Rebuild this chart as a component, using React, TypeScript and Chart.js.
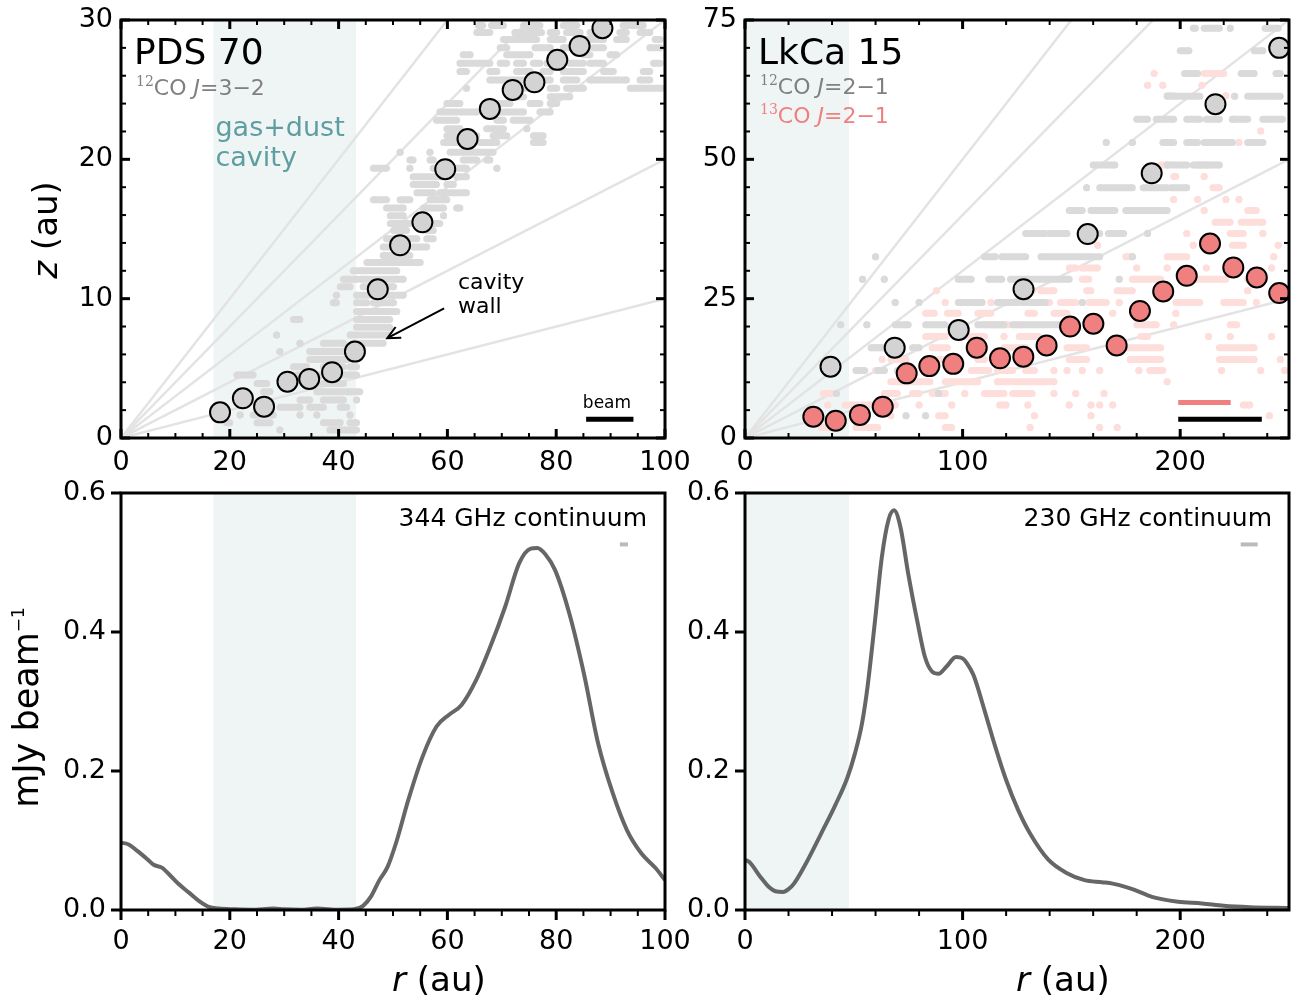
import React, { useEffect, useRef } from 'react';
import { Chart, registerables } from 'chart.js';

Chart.register(...registerables);

const FONT = '"DejaVu Sans", sans-serif';
const SERIF = '"DejaVu Serif", serif';
const GRAY_TXT = '#808080';
const CORAL = '#f08080';
const TEAL = '#5f9ea0';
const SHADE = '#eff5f5';
const LINE_GRAY = '#e3e3e3';
const DOT_GRAY = '#dadada';
const DOT_PINK = '#fddedb';

// ---------------- axes / ticks ----------------
const pdsXTicks = [0, 20, 40, 60, 80, 100];
const pdsZTicks = [0, 10, 20, 30];
const lkXTicks = [0, 100, 200];
const lkZTicks = [0, 25, 50, 75];
const fluxTicks = [0, 0.2, 0.4, 0.6];

// z/r reference lines
const zOverR = [0.1, 0.2, 0.3, 0.4, 0.5];

// gas+dust cavities (au)
const pdsCavity = [17, 43.2];
const lkCavity = [0, 47.8];

// ---------------- PDS 70 12CO emission surface ----------------
const pdsR = [18.2, 22.4, 26.3, 30.6, 34.6, 38.8, 43.0, 47.2, 51.3, 55.4, 59.6, 63.7, 67.8, 72.0, 76.0, 80.2, 84.3, 88.5];
const pdsZ = [1.84, 2.85, 2.25, 4.04, 4.24, 4.72, 6.2, 10.67, 13.83, 15.48, 19.29, 21.46, 23.62, 24.98, 25.53, 27.14, 28.14, 29.41];

// individual pixel measurements, runs of adjacent pixels: [z, r_start, r_end]
const pdsPixels: [number, number, number][] = [
  [29.6, 65.7, 66.5], [29.6, 68.1, 70.3], [29.6, 74.0, 77.0], [29.6, 81.3, 83.8], [29.6, 92.3, 96.0],
  [29.1, 65.4, 67.8], [29.1, 72.4, 74.0], [29.1, 74.6, 77.3], [29.1, 78.9, 80.1], [29.1, 81.9, 84.4], [29.1, 86.2, 87.7], [29.1, 91.7, 92.9], [29.1, 95.4, 97.2],
  [28.6, 70.3, 74.0], [28.6, 74.6, 76.4], [28.6, 78.9, 81.3], [28.6, 85.6, 88.7], [28.6, 91.1, 92.9], [28.6, 98.2, 99.1],
  [28.0, 69.7, 70.9], [28.0, 76.1, 78.9], [28.0, 81.3, 82.5], [28.0, 86.8, 88.7], [28.0, 97.2, 99.1],
  [27.5, 62.9, 64.2], [27.5, 70.9, 75.2], [27.5, 85.0, 86.2], [27.5, 89.9, 91.1],
  [26.9, 62.3, 67.8], [26.9, 69.7, 70.9], [26.9, 72.7, 74.0], [26.9, 75.8, 77.0], [26.9, 78.3, 80.1], [26.9, 82.5, 85.0], [26.9, 86.2, 88.7], [26.9, 97.9, 99.1],
  [26.3, 62.3, 63.5], [26.3, 67.8, 69.1], [26.3, 72.7, 75.2], [26.3, 77.6, 78.9], [26.3, 81.3, 85.0], [26.3, 88.7, 90.5], [26.3, 96.0, 97.2],
  [25.7, 67.8, 76.4], [25.7, 77.0, 78.9], [25.7, 81.3, 83.8], [25.7, 86.2, 92.9], [25.7, 95.4, 97.2],
  [25.1, 63.5, 63.5], [25.1, 71.5, 76.4], [25.1, 78.9, 80.1], [25.1, 81.9, 85.0], [25.1, 93.6, 99.4],
  [24.5, 71.5, 74.0], [24.5, 78.9, 82.5],
  [24.0, 59.9, 62.3], [24.0, 69.7, 71.5], [24.0, 75.2, 77.0], [24.0, 78.9, 80.1],
  [23.4, 58.6, 61.7], [23.4, 62.3, 65.4], [23.4, 69.7, 74.0], [23.4, 77.0, 78.9],
  [22.8, 58.0, 61.7], [22.8, 69.1, 70.3], [22.8, 72.1, 75.2],
  [22.2, 59.9, 62.3], [22.2, 67.2, 70.3], [22.2, 74.6, 74.6],
  [21.7, 59.9, 61.7], [21.7, 62.9, 65.4], [21.7, 68.4, 70.9], [21.7, 75.8, 77.6],
  [21.2, 59.3, 61.7], [21.2, 66.0, 69.1], [21.2, 75.8, 77.6],
  [20.5, 51.3, 51.3], [20.5, 56.8, 56.8], [20.5, 60.5, 68.4],
  [19.95, 53.1, 53.7], [19.95, 56.8, 57.4], [19.95, 62.9, 65.4], [19.95, 67.2, 67.8],
  [19.36, 46.4, 48.8], [19.36, 53.1, 53.1], [19.36, 57.4, 57.4], [19.36, 61.1, 63.5], [19.36, 69.1, 69.1],
  [18.75, 53.7, 59.3], [18.75, 61.7, 63.5],
  [18.2, 53.7, 58.0], [18.2, 59.9, 61.1],
  [17.6, 54.4, 57.4], [17.6, 58.6, 63.5],
  [17.1, 46.4, 48.8], [17.1, 51.3, 53.1], [17.1, 56.8, 59.9],
  [16.5, 48.8, 51.9], [16.5, 55.6, 59.3], [16.5, 61.7, 62.3],
  [15.95, 49.5, 51.9], [15.95, 59.3, 59.3],
  [15.4, 49.5, 53.1], [15.4, 56.8, 58.6],
  [14.9, 50.1, 52.5], [14.9, 56.2, 57.4],
  [14.3, 48.8, 50.7], [14.3, 52.5, 54.4], [14.3, 56.2, 57.4],
  [13.7, 48.2, 50.1], [13.7, 53.7, 56.2],
  [13.1, 48.2, 53.1],
  [12.6, 45.2, 55.0],
  [12.0, 42.7, 50.7],
  [11.4, 40.9, 43.3], [11.4, 44.0, 51.9],
  [10.85, 40.3, 42.1], [10.85, 44.5, 50.1],
  [10.25, 39.6, 39.6], [10.25, 43.3, 51.9],
  [9.7, 39.0, 39.6], [9.7, 43.3, 45.2], [9.7, 46.4, 50.1],
  [9.07, 43.3, 50.7],
  [8.5, 31.7, 32.9], [8.5, 43.3, 49.4],
  [7.95, 43.3, 49.4],
  [7.4, 28.6, 28.6], [7.4, 42.1, 49.4],
  [6.8, 32.9, 32.9], [6.8, 37.2, 40.9], [6.8, 42.7, 48.2],
  [6.2, 29.2, 29.2], [6.2, 34.7, 40.9],
  [5.64, 34.7, 41.5],
  [5.12, 31.7, 34.1], [5.12, 37.2, 40.9], [5.12, 42.1, 43.3],
  [4.52, 21.3, 24.3], [4.52, 32.3, 33.5], [4.52, 34.7, 43.3],
  [3.92, 25.0, 26.8], [3.92, 33.5, 36.0], [3.92, 37.2, 40.9],
  [3.32, 26.2, 27.4], [3.32, 36.0, 40.9], [3.32, 41.5, 43.9],
  [2.73, 32.9, 34.7], [2.73, 37.2, 40.9], [2.73, 43.3, 43.3],
  [2.2, 29.2, 32.9], [2.2, 34.7, 37.2], [2.2, 40.3, 41.5],
  [1.65, 21.9, 21.9], [1.65, 24.3, 28.0], [1.65, 32.9, 32.9], [1.65, 36.0, 36.0], [1.65, 42.1, 42.1],
  [1.1, 19.4, 20.0], [1.1, 25.0, 27.4], [1.1, 37.2, 40.3], [1.1, 42.1, 43.3],
  [0.57, 29.2, 29.2], [0.57, 38.4, 43.3],
];

// ---------------- LkCa 15 emission surfaces ----------------
const lk12R = [39.3, 68.8, 98.2, 128.0, 157.5, 186.9, 216.2, 245.5];
const lk12Z = [12.8, 16.2, 19.4, 26.7, 36.6, 47.5, 59.9, 70.0];
const lk13R = [31.4, 41.7, 52.8, 63.3, 74.3, 84.7, 95.7, 106.5, 117.2, 127.9, 138.6, 149.4, 160.1, 170.8, 181.5, 192.2, 203.0, 213.7, 224.4, 235.2, 245.5];
const lk13Z = [3.83, 3.11, 4.13, 5.62, 11.6, 12.9, 13.3, 16.2, 14.3, 14.6, 16.6, 20.0, 20.5, 16.6, 22.8, 26.3, 29.1, 34.9, 30.6, 28.8, 26.0];

const lk12Pixels: [number, number, number][] = [
  [73.5, 206, 207], [73.5, 211, 218], [73.5, 223, 223], [73.5, 239, 245],
  [69.5, 200, 204], [69.5, 234, 238],
  [65.4, 202, 208], [65.4, 228, 234], [65.4, 244, 246],
  [61.3, 194, 209], [61.3, 225, 225], [61.3, 231, 246],
  [57.2, 180, 185], [57.2, 189, 197], [57.2, 203, 209], [57.2, 212, 218], [57.2, 224, 231], [57.2, 238, 247],
  [53.0, 166, 166], [53.0, 178, 178], [53.0, 192, 197], [53.0, 203, 208], [53.0, 211, 224], [53.0, 231, 238],
  [49.0, 160, 170], [49.0, 194, 203], [49.0, 206, 218],
  [44.9, 157, 157], [44.9, 163, 178], [44.9, 183, 194], [44.9, 196, 203],
  [40.8, 149, 155], [40.8, 159, 170], [40.8, 175, 194],
  [36.7, 129, 138], [36.7, 140, 148], [36.7, 154, 163], [36.7, 167, 174], [36.7, 185, 185],
  [32.5, 60, 60], [32.5, 110, 115], [32.5, 118, 129], [32.5, 136, 163], [32.5, 178, 178],
  [28.5, 54, 54], [28.5, 64, 64], [28.5, 98, 104], [28.5, 112, 118], [28.5, 122, 149], [28.5, 172, 172],
  [24.3, 69, 69], [24.3, 80, 80], [24.3, 98, 109], [24.3, 116, 125], [24.3, 127, 138], [24.3, 155, 155],
  [20.3, 44, 44], [20.3, 56, 56], [20.3, 69, 75], [20.3, 83, 92], [20.3, 98, 101], [20.3, 107, 119], [20.3, 123, 146],
  [16.2, 58, 67], [16.2, 77, 80],
  [12.1, 51, 55], [12.1, 61, 64], [12.1, 70, 74],
  [8.0, 42, 42], [8.0, 89, 89],
  [4.0, 74, 74], [4.0, 83, 83],
];

const lk13Pixels: [number, number, number][] = [
  [65.4, 188, 188], [65.4, 211, 220],
  [63.3, 185, 185], [63.3, 192, 192], [63.3, 210, 210],
  [61.4, 194, 197], [61.4, 206, 206], [61.4, 221, 221],
  [57.2, 224, 224], [55.1, 237, 237], [53.0, 227, 227],
  [49.0, 191, 194], [49.0, 208, 213],
  [46.9, 197, 198], [46.9, 211, 211],
  [44.9, 215, 218],
  [42.8, 197, 197], [42.8, 208, 208], [42.8, 221, 221], [42.8, 227, 227],
  [40.8, 211, 211], [40.8, 231, 235],
  [38.7, 216, 223], [38.7, 228, 238],
  [36.7, 162, 162], [36.7, 203, 203], [36.7, 223, 229], [36.7, 238, 238],
  [34.6, 162, 162], [34.6, 206, 206], [34.6, 224, 229], [34.6, 245, 245],
  [32.5, 175, 178], [32.5, 194, 203], [32.5, 243, 243],
  [30.5, 149, 152], [30.5, 155, 162], [30.5, 180, 180], [30.5, 194, 194], [30.5, 212, 212], [30.5, 224, 224], [30.5, 242, 242],
  [28.5, 155, 158], [28.5, 178, 191], [28.5, 205, 221], [28.5, 231, 231],
  [26.4, 88, 88], [26.4, 132, 132], [26.4, 136, 142], [26.4, 157, 159], [26.4, 171, 178], [26.4, 231, 231],
  [24.3, 92, 92], [24.3, 113, 113], [24.3, 132, 140], [24.3, 145, 152], [24.3, 158, 166], [24.3, 172, 172], [24.3, 198, 209], [24.3, 220, 229], [24.3, 235, 235],
  [22.4, 83, 87], [22.4, 93, 98], [22.4, 107, 113], [22.4, 130, 133], [22.4, 142, 148], [22.4, 169, 169], [22.4, 198, 198],
  [20.3, 74, 74], [20.3, 110, 121], [20.3, 127, 127], [20.3, 180, 189], [20.3, 197, 197], [20.3, 223, 226],
  [18.2, 83, 92], [18.2, 98, 110], [18.2, 119, 119], [18.2, 126, 135], [18.2, 182, 185], [18.2, 213, 213], [18.2, 223, 223], [18.2, 242, 242],
  [16.2, 58, 70], [16.2, 86, 93], [16.2, 119, 129], [16.2, 148, 157], [16.2, 175, 191], [16.2, 218, 234],
  [14.1, 63, 63], [14.1, 67, 74], [14.1, 83, 92], [14.1, 107, 110], [14.1, 149, 157], [14.1, 177, 191], [14.1, 218, 234], [14.1, 246, 246],
  [12.1, 60, 64], [12.1, 104, 112], [12.1, 116, 123], [12.1, 129, 133], [12.1, 142, 142], [12.1, 148, 148], [12.1, 155, 155], [12.1, 163, 163], [12.1, 181, 181], [12.1, 186, 192], [12.1, 219, 219], [12.1, 237, 237], [12.1, 248, 248],
  [10.1, 67, 85], [10.1, 92, 107], [10.1, 116, 142], [10.1, 194, 194],
  [8.0, 36, 40], [8.0, 64, 70], [8.0, 77, 80], [8.0, 86, 92], [8.0, 101, 101], [8.0, 110, 119], [8.0, 123, 132], [8.0, 142, 142], [8.0, 152, 152], [8.0, 165, 165],
  [5.9, 38, 38], [5.9, 46, 61], [5.9, 69, 69], [5.9, 80, 80], [5.9, 95, 95], [5.9, 117, 120], [5.9, 130, 130], [5.9, 149, 149], [5.9, 159, 159], [5.9, 163, 163], [5.9, 169, 169], [5.9, 229, 232],
  [4.0, 67, 67], [4.0, 89, 92], [4.0, 133, 133], [4.0, 159, 159], [4.0, 241, 241],
  [1.9, 35, 41], [1.9, 51, 61], [1.9, 92, 95], [1.9, 131, 131], [1.9, 163, 163], [1.9, 171, 171],
];

// ---------------- continuum radial profiles ----------------
const pdsContR = [0, 1.5, 3, 5, 6, 7.5, 9, 10.5, 12.5, 14.5, 16, 18, 21, 24, 28, 30, 33, 36, 40, 42.8, 44.5, 46, 47.5, 49, 50.7, 52.8, 55.4, 58, 60.3, 62.6, 65.3, 67.9, 70.6, 73.2, 75.3, 76.5, 78, 79.8, 82.4, 85.1, 87.7, 90.4, 93, 95.6, 98.3, 100];
const pdsContI = [0.097, 0.094, 0.085, 0.072, 0.065, 0.061, 0.05, 0.038, 0.025, 0.012, 0.005, 0.002, 0.001, 0.0005, 0.002, 0.001, 0.0005, 0.002, 0.0005, 0.001, 0.006, 0.02, 0.043, 0.062, 0.1, 0.158, 0.22, 0.264, 0.281, 0.295, 0.331, 0.379, 0.436, 0.499, 0.52, 0.521, 0.512, 0.489, 0.427, 0.34, 0.24, 0.168, 0.115, 0.082, 0.06, 0.043];

const lkContR = [0, 2, 7, 11, 14, 17.5, 20, 22.5, 28, 35, 41.5, 47, 50.5, 53.8, 56.3, 59.6, 62.9, 66, 68.5, 71.5, 75, 79.4, 82.7, 86, 89, 92.5, 97, 100, 102, 105, 110, 115, 120, 125.5, 131, 139.5, 148, 156, 164, 169, 174, 179, 187, 199, 210, 220, 232, 250];
const lkContI = [0.072, 0.069, 0.048, 0.033, 0.027, 0.026, 0.03, 0.038, 0.067, 0.11, 0.151, 0.19, 0.225, 0.269, 0.321, 0.412, 0.508, 0.562, 0.575, 0.55, 0.484, 0.412, 0.364, 0.343, 0.34, 0.35, 0.364, 0.362, 0.355, 0.338, 0.288, 0.235, 0.187, 0.144, 0.11, 0.072, 0.053, 0.043, 0.04, 0.038, 0.034, 0.029, 0.019, 0.012, 0.0095, 0.006, 0.004, 0.003];

// ---------------- beams [r_start, r_end, level] ----------------
const pdsBeam = [85.5, 94.2, 1.34];
const lk12Beam = [199.1, 237.5, 3.37];
const lk13Beam = [199.1, 223.2, 6.37];
const pdsContBeam = [91.7, 93.2, 0.526];
const lkContBeam = [227.8, 235.6, 0.526];

// ---------------- helpers ----------------
const pts = (xs: number[], ys: number[]) => xs.map((x, i) => ({ x, y: ys[i] }));

function runsToData(runs: [number, number, number][]) {
  const out: any[] = [];
  runs.forEach(([z, a, b]) => {
    out.push({ x: a, y: z }, { x: b, y: z }, { x: b, y: null });
  });
  return out;
}

type Part = { t: string; f: string; c: string; dy?: number };
function rich(ctx: CanvasRenderingContext2D, parts: Part[], x: number, y: number, align = 'left', baseline: CanvasTextBaseline = 'alphabetic') {
  ctx.save();
  ctx.textAlign = 'left';
  ctx.textBaseline = baseline;
  let w = 0;
  for (const p of parts) { ctx.font = p.f; w += ctx.measureText(p.t).width; }
  let cx = align === 'left' ? x : align === 'center' ? x - w / 2 : x - w;
  for (const p of parts) {
    ctx.font = p.f;
    ctx.fillStyle = p.c;
    ctx.fillText(p.t, cx, y + (p.dy || 0));
    cx += ctx.measureText(p.t).width;
  }
  ctx.restore();
}

function buildScales(p: any) {
  const tickFont = { family: FONT, size: 27 };
  return {
    x: {
      type: 'linear', min: p.xmin, max: p.xmax,
      grid: { display: false, drawTicks: false }, border: { display: false },
      ticks: { font: tickFont, color: '#000', padding: p.xPad, autoSkip: false, maxRotation: 0, minRotation: 0, callback: (v: number) => String(v) },
      afterBuildTicks: (s: any) => { s.ticks = p.xticks.map((v: number) => ({ value: v })); },
      afterFit: (s: any) => { s.height = p.xHeight; },
    },
    y: {
      type: 'linear', min: p.ymin, max: p.ymax,
      grid: { display: false, drawTicks: false }, border: { display: false },
      ticks: { font: tickFont, color: '#000', padding: p.yPad, autoSkip: false, callback: p.yfmt },
      afterBuildTicks: (s: any) => { s.ticks = p.yticks.map((v: number) => ({ value: v })); },
      afterFit: (s: any) => { s.width = p.yWidth; },
    },
  };
}

function decorPlugin(d: any) {
  return {
    id: 'decor',
    beforeDatasetsDraw(chart: any) {
      const { ctx, chartArea: a, scales: { x } } = chart;
      ctx.save();
      ctx.fillStyle = SHADE;
      const x0 = x.getPixelForValue(d.shade[0]);
      const x1 = x.getPixelForValue(d.shade[1]);
      ctx.fillRect(x0, a.top, x1 - x0, a.bottom - a.top);
      ctx.restore();
    },
    afterDatasetsDraw(chart: any) {
      const { ctx, chartArea: a, scales: { x, y } } = chart;
      ctx.save();
      ctx.strokeStyle = '#000';
      const line = (x0: number, y0: number, x1: number, y1: number, w: number) => {
        ctx.lineWidth = w;
        ctx.beginPath(); ctx.moveTo(x0, y0); ctx.lineTo(x1, y1); ctx.stroke();
      };
      const MAJ = 9, MIN = 5;
      const xs: [number, boolean][] = [];
      for (let v = x.min; v <= x.max + 1e-9; v += d.xMinor) xs.push([v, d.xticks.some((t: number) => Math.abs(t - v) < 1e-6)]);
      const ys: [number, boolean][] = [];
      if (d.yMinor) for (let v = y.min; v <= y.max + 1e-9; v += d.yMinor) ys.push([v, d.yticks.some((t: number) => Math.abs(t - v) < 1e-6)]);
      else d.yticks.forEach((t: number) => ys.push([t, true]));
      xs.forEach(([v, maj]) => {
        const px = x.getPixelForValue(v);
        const L = maj ? MAJ : MIN, W = maj ? 3 : 2;
        if (d.inward) {
          line(px, a.bottom, px, a.bottom - L, W);
          line(px, a.top, px, a.top + L, W);
        } else {
          line(px, a.bottom, px, a.bottom + (maj ? 10 : 6), W);
        }
      });
      ys.forEach(([v, maj]) => {
        const py = y.getPixelForValue(v);
        const L = maj ? MAJ : MIN, W = maj ? 3 : 2;
        if (d.inward) {
          line(a.left, py, a.left + L, py, W);
          line(a.right, py, a.right - L, py, W);
        } else {
          line(a.left, py, a.left - 10, py, W);
        }
      });
      ctx.lineWidth = 3;
      ctx.strokeRect(a.left, a.top, a.right - a.left, a.bottom - a.top);
      ctx.restore();
      if (d.draw) d.draw(chart, ctx);
    },
  };
}

function baseOptions(padTop: number, padRight: number, scales: any) {
  return {
    responsive: false,
    animation: false,
    devicePixelRatio: 1,
    events: [],
    layout: { padding: { top: padTop, right: padRight, left: 0, bottom: 0 } },
    plugins: { legend: { display: false }, tooltip: { enabled: false } },
    scales,
  };
}

function refLines(xmax: number) {
  return zOverR.map((k) => ({
    data: [{ x: 0, y: 0 }, { x: xmax, y: k * xmax }],
    borderColor: LINE_GRAY, borderWidth: 2.5, pointRadius: 0, order: 5, clip: 0,
  }));
}

function cloud(runs: [number, number, number][], color: string, order: number) {
  return {
    data: runsToData(runs),
    borderColor: color, borderWidth: 7, borderCapStyle: 'butt',
    pointRadius: 3.5, pointBackgroundColor: color, pointBorderWidth: 0,
    spanGaps: false, order, clip: 0,
  };
}

function circles(xs: number[], ys: number[], fill: string, order: number) {
  return {
    data: pts(xs, ys), showLine: false,
    pointRadius: 10, pointBackgroundColor: fill, pointBorderColor: '#000', pointBorderWidth: 2,
    order, clip: 0,
  };
}

function bar(b: number[], color: string, width: number, order: number) {
  return {
    data: [{ x: b[0], y: b[2] }, { x: b[1], y: b[2] }],
    borderColor: color, borderWidth: width, pointRadius: 0, order, clip: 0,
  };
}

function profile(xs: number[], ys: number[]) {
  return {
    data: pts(xs, ys), borderColor: '#666666', borderWidth: 4, pointRadius: 0,
    cubicInterpolationMode: 'monotone', order: 1, clip: 0,
  };
}

function arrow(ctx: CanvasRenderingContext2D, x0: number, y0: number, x1: number, y1: number) {
  ctx.save();
  ctx.strokeStyle = '#000';
  ctx.lineWidth = 2;
  ctx.beginPath(); ctx.moveTo(x0, y0); ctx.lineTo(x1, y1); ctx.stroke();
  const ang = Math.atan2(y0 - y1, x0 - x1);
  const L = 14, h = 0.45;
  ctx.beginPath();
  ctx.moveTo(x1 + L * Math.cos(ang - h), y1 + L * Math.sin(ang - h));
  ctx.lineTo(x1, y1);
  ctx.lineTo(x1 + L * Math.cos(ang + h), y1 + L * Math.sin(ang + h));
  ctx.stroke();
  ctx.restore();
}

const f = (size: number, style = '') => `${style} ${size}px ${FONT}`.trim();

function coLabel(iso: string, trans: string, color: string): Part[] {
  return [
    { t: iso, f: `14px ${SERIF}`, c: color, dy: -9 },
    { t: 'CO ', f: f(22), c: color },
    { t: 'J', f: f(22, 'italic'), c: color },
    { t: trans, f: f(22), c: color },
  ];
}

function rAxisTitle(ctx: CanvasRenderingContext2D, a: any) {
  rich(ctx, [{ t: 'r', f: f(34, 'italic'), c: '#000' }, { t: ' (au)', f: f(34), c: '#000' }], (a.left + a.right) / 2 - 1, a.bottom + 81);
}

// ---------------- chart configs ----------------
// canvases start 40px above the plot area so that the axis label padding never moves the frame
const PAD_TOP = 40;

function configPDS() {
  const scales = buildScales({ xmin: 0, xmax: 100, xticks: pdsXTicks, ymin: 0, ymax: 30, yticks: pdsZTicks, yfmt: (v: number) => String(v), yWidth: 121, xHeight: 42, xPad: 9, yPad: 8 });
  return {
    type: 'line',
    data: {
      datasets: [
        circles(pdsR, pdsZ, '#d3d3d3', 0),
        bar(pdsBeam, '#000', 5, 1),
        cloud(pdsPixels, DOT_GRAY, 3),
        ...refLines(100),
      ],
    },
    options: baseOptions(PAD_TOP, 55, scales),
    plugins: [decorPlugin({
      shade: pdsCavity, inward: true, xticks: pdsXTicks, xMinor: 5, yticks: pdsZTicks, yMinor: 2,
      draw: (chart: any, ctx: CanvasRenderingContext2D) => {
        const { chartArea: a, scales: { x, y } } = chart;
        rich(ctx, [{ t: 'PDS 70', f: f(36), c: '#000' }], a.left + 13, a.top + 43.5);
        rich(ctx, coLabel('12', '=3−2', GRAY_TXT), a.left + 15, a.top + 75);
        rich(ctx, [{ t: 'gas+dust', f: f(27), c: TEAL }], x.getPixelForValue(pdsCavity[0]) + 2, a.top + 116);
        rich(ctx, [{ t: 'cavity', f: f(27), c: TEAL }], x.getPixelForValue(pdsCavity[0]) + 2, a.top + 146);
        rich(ctx, [{ t: 'cavity', f: f(22), c: '#000' }], x.getPixelForValue(61.95), y.getPixelForValue(10.67));
        rich(ctx, [{ t: 'wall', f: f(22), c: '#000' }], x.getPixelForValue(61.95), y.getPixelForValue(8.95));
        arrow(ctx, x.getPixelForValue(59.4), y.getPixelForValue(9.31), x.getPixelForValue(48.95), y.getPixelForValue(7.16));
        rich(ctx, [{ t: 'beam', f: f(17), c: '#000' }], x.getPixelForValue(84.9), y.getPixelForValue(2.15));
        ctx.save();
        ctx.translate(57, (a.top + a.bottom) / 2 + 1);
        ctx.rotate(-Math.PI / 2);
        rich(ctx, [{ t: 'z', f: f(34, 'italic'), c: '#000' }, { t: ' (au)', f: f(34), c: '#000' }], 0, 0, 'center');
        ctx.restore();
      },
    })],
  };
}

function configLk() {
  const scales = buildScales({ xmin: 0, xmax: 250, xticks: lkXTicks, ymin: 0, ymax: 75, yticks: lkZTicks, yfmt: (v: number) => String(v), yWidth: 65, xHeight: 42, xPad: 9, yPad: 8 });
  return {
    type: 'line',
    data: {
      datasets: [
        circles(lk13R, lk13Z, CORAL, 0),
        circles(lk12R, lk12Z, '#d3d3d3', 1),
        bar(lk13Beam, CORAL, 5, 2),
        bar(lk12Beam, '#000', 5, 2),
        cloud(lk12Pixels, DOT_GRAY, 3),
        cloud(lk13Pixels, DOT_PINK, 4),
        ...refLines(250),
      ],
    },
    options: baseOptions(PAD_TOP, 12, scales),
    plugins: [decorPlugin({
      shade: lkCavity, inward: true, xticks: lkXTicks, xMinor: 20, yticks: lkZTicks, yMinor: 5,
      draw: (chart: any, ctx: CanvasRenderingContext2D) => {
        const { chartArea: a } = chart;
        rich(ctx, [{ t: 'LkCa 15', f: f(36), c: '#000' }], a.left + 13, a.top + 43.5);
        rich(ctx, coLabel('12', '=2−1', GRAY_TXT), a.left + 15, a.top + 74);
        rich(ctx, coLabel('13', '=2−1', CORAL), a.left + 15, a.top + 103);
      },
    })],
  };
}

function configContPDS() {
  const scales = buildScales({ xmin: 0, xmax: 100, xticks: pdsXTicks, ymin: 0, ymax: 0.6, yticks: fluxTicks, yfmt: (v: number) => v.toFixed(1), yWidth: 121, xHeight: 88, xPad: 16, yPad: 15 });
  return {
    type: 'line',
    data: { datasets: [profile(pdsContR, pdsContI), bar(pdsContBeam, '#bbbbbb', 4, 2)] },
    options: baseOptions(PAD_TOP, 55, scales),
    plugins: [decorPlugin({
      shade: pdsCavity, inward: false, xticks: pdsXTicks, xMinor: 5, yticks: fluxTicks, yMinor: null,
      draw: (chart: any, ctx: CanvasRenderingContext2D) => {
        const { chartArea: a } = chart;
        rich(ctx, [{ t: '344 GHz continuum', f: f(25), c: '#000' }], a.right - 18, a.top + 33, 'right');
        rAxisTitle(ctx, a);
        ctx.save();
        ctx.translate(38, (a.top + a.bottom) / 2 + 6);
        ctx.rotate(-Math.PI / 2);
        rich(ctx, [{ t: 'mJy beam', f: f(35), c: '#000' }, { t: '−1', f: f(17), c: '#000', dy: -14 }], 0, 0, 'center');
        ctx.restore();
      },
    })],
  };
}

function configContLk() {
  const scales = buildScales({ xmin: 0, xmax: 250, xticks: lkXTicks, ymin: 0, ymax: 0.6, yticks: fluxTicks, yfmt: (v: number) => v.toFixed(1), yWidth: 85, xHeight: 88, xPad: 16, yPad: 15 });
  return {
    type: 'line',
    data: { datasets: [profile(lkContR, lkContI), bar(lkContBeam, '#bbbbbb', 4, 2)] },
    options: baseOptions(PAD_TOP, 12, scales),
    plugins: [decorPlugin({
      shade: lkCavity, inward: false, xticks: lkXTicks, xMinor: 20, yticks: fluxTicks, yMinor: null,
      draw: (chart: any, ctx: CanvasRenderingContext2D) => {
        const { chartArea: a } = chart;
        rich(ctx, [{ t: '230 GHz continuum', f: f(25), c: '#000' }], a.right - 17, a.top + 33, 'right');
        rAxisTitle(ctx, a);
      },
    })],
  };
}

// ---------------- components ----------------
function Panel({ left, top, width, height, make }: any) {
  const ref = useRef<HTMLCanvasElement>(null);
  useEffect(() => {
    const chart = new Chart(ref.current as HTMLCanvasElement, make());
    return () => chart.destroy();
  }, []);
  return (
    <canvas
      ref={ref}
      width={width}
      height={height}
      style={{ position: 'absolute', left, top, width, height }}
    />
  );
}

// plot areas: top row y 20..438, bottom row y 493..910; left x 121..665, right x 745..1289
export default function App() {
  return (
    <div style={{ position: 'fixed', left: 0, top: 0, width: 1301, height: 998, background: '#fff', overflow: 'hidden' }}>
      <Panel left={0} top={20 - PAD_TOP} width={720} height={438 + 42 - 20 + PAD_TOP} make={configPDS} />
      <Panel left={680} top={20 - PAD_TOP} width={621} height={438 + 42 - 20 + PAD_TOP} make={configLk} />
      <Panel left={0} top={493 - PAD_TOP} width={720} height={998 - 493 + PAD_TOP} make={configContPDS} />
      <Panel left={660} top={493 - PAD_TOP} width={641} height={998 - 493 + PAD_TOP} make={configContLk} />
    </div>
  );
}
